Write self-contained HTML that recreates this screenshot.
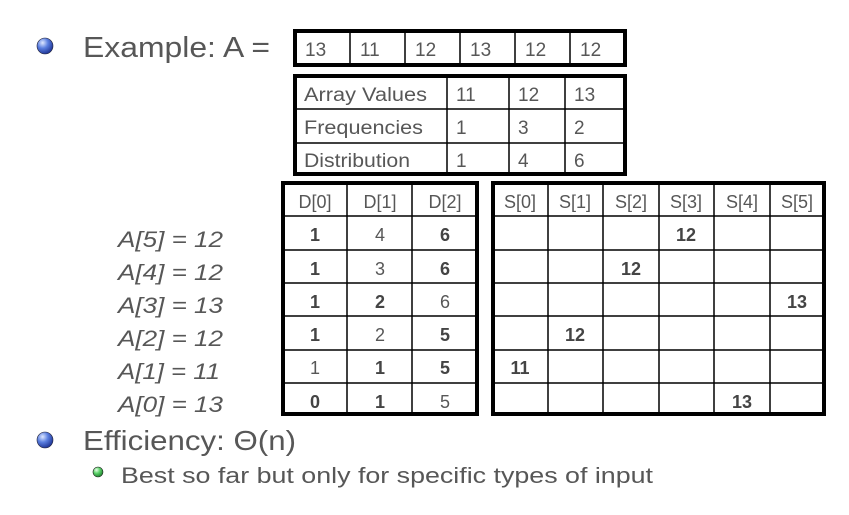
<!DOCTYPE html>
<html><head><meta charset="utf-8"><style>
html,body{margin:0;padding:0;background:#fff;width:849px;height:515px;overflow:hidden}
svg{display:block}
text{font-family:"Liberation Sans",sans-serif;fill:#575757}
.b{font-weight:bold;fill:#444}
</style></head><body>
<svg width="849" height="515" viewBox="0 0 849 515" xmlns="http://www.w3.org/2000/svg">
<defs>
<radialGradient id="bl" cx="0.35" cy="0.3" r="0.75"><stop offset="0" stop-color="#dfe8ff"/><stop offset="0.45" stop-color="#5b7fe0"/><stop offset="1" stop-color="#1a2f90"/></radialGradient>
<radialGradient id="gr" cx="0.35" cy="0.3" r="0.75"><stop offset="0" stop-color="#e8ffe8"/><stop offset="0.45" stop-color="#5cd36a"/><stop offset="1" stop-color="#1b7a2a"/></radialGradient>
</defs>
<circle cx="45" cy="46" r="8" fill="url(#bl)" stroke="#223" stroke-width="0.6"/>
<text x="83" y="57" font-size="29" textLength="187" lengthAdjust="spacingAndGlyphs">Example: A =</text>

<g stroke="#000" fill="none">
<rect x="295" y="31" width="330" height="34" stroke-width="4"/>
<path d="M350 33V63M405 33V63M460 33V63M515 33V63M570 33V63" stroke-width="1.5"/>
<rect x="295" y="76" width="330" height="98" stroke-width="4"/>
<path d="M297 109H623M297 143H623M447 78V172M509 78V172M565 78V172" stroke-width="1.5"/>
<rect x="283" y="183" width="194" height="231" stroke-width="4"/>
<path d="M285 216H475M285 250H475M285 283H475M285 316H475M285 350H475M285 383H475M347 185V412M412 185V412" stroke-width="1.5"/>
<rect x="493" y="183" width="331" height="231" stroke-width="4"/>
<path d="M495 216H822M495 250H822M495 283H822M495 316H822M495 350H822M495 383H822M548 185V412M603 185V412M659 185V412M714 185V412M770 185V412" stroke-width="1.5"/>
</g>
<g font-size="19">
<text x="305" y="56">13</text><text x="360" y="56">11</text><text x="415" y="56">12</text><text x="470" y="56">13</text><text x="525" y="56">12</text><text x="580" y="56">12</text>
<text x="304" y="101" textLength="123" lengthAdjust="spacingAndGlyphs">Array Values</text><text x="456" y="101">11</text><text x="518" y="101">12</text><text x="574" y="101">13</text>
<text x="304" y="134" textLength="119" lengthAdjust="spacingAndGlyphs">Frequencies</text><text x="456" y="134">1</text><text x="518" y="134">3</text><text x="574" y="134">2</text>
<text x="304" y="167" textLength="106" lengthAdjust="spacingAndGlyphs">Distribution</text><text x="456" y="167">1</text><text x="518" y="167">4</text><text x="574" y="167">6</text>
</g>
<g font-size="18" text-anchor="middle">
<text x="315" y="208">D[0]</text><text x="380" y="208">D[1]</text><text x="445" y="208">D[2]</text>
<text x="520" y="208">S[0]</text><text x="575" y="208">S[1]</text><text x="631" y="208">S[2]</text><text x="686" y="208">S[3]</text><text x="742" y="208">S[4]</text><text x="797" y="208">S[5]</text>
</g>
<g font-size="18" text-anchor="middle">
<text class="b" x="315" y="241">1</text><text x="380" y="241">4</text><text class="b" x="445" y="241">6</text>
<text class="b" x="315" y="275">1</text><text x="380" y="275">3</text><text class="b" x="445" y="275">6</text>
<text class="b" x="315" y="308">1</text><text class="b" x="380" y="308">2</text><text x="445" y="308">6</text>
<text class="b" x="315" y="341">1</text><text x="380" y="341">2</text><text class="b" x="445" y="341">5</text>
<text x="315" y="374">1</text><text class="b" x="380" y="374">1</text><text class="b" x="445" y="374">5</text>
<text class="b" x="315" y="408">0</text><text class="b" x="380" y="408">1</text><text x="445" y="408">5</text>
<text class="b" x="686" y="241">12</text>
<text class="b" x="631" y="275">12</text>
<text class="b" x="797" y="308">13</text>
<text class="b" x="575" y="341">12</text>
<text class="b" x="520" y="374">11</text>
<text class="b" x="742" y="408">13</text>
</g>
<g font-size="22" font-style="italic">
<text x="118" y="247" textLength="105" lengthAdjust="spacingAndGlyphs">A[5] = 12</text>
<text x="118" y="280" textLength="105" lengthAdjust="spacingAndGlyphs">A[4] = 12</text>
<text x="118" y="313" textLength="105" lengthAdjust="spacingAndGlyphs">A[3] = 13</text>
<text x="118" y="346" textLength="105" lengthAdjust="spacingAndGlyphs">A[2] = 12</text>
<text x="118" y="379" textLength="102" lengthAdjust="spacingAndGlyphs">A[1] = 11</text>
<text x="118" y="412" textLength="105" lengthAdjust="spacingAndGlyphs">A[0] = 13</text>
</g>
<circle cx="45" cy="440" r="8" fill="url(#bl)" stroke="#223" stroke-width="0.6"/>
<text x="83" y="450" font-size="28" textLength="213" lengthAdjust="spacingAndGlyphs">Efficiency: Θ(n)</text>
<circle cx="98" cy="472" r="5" fill="url(#gr)" stroke="#222" stroke-width="0.6"/>
<text x="121" y="483" font-size="22" textLength="532" lengthAdjust="spacingAndGlyphs">Best so far but only for specific types of input</text>
</svg>
</body></html>
